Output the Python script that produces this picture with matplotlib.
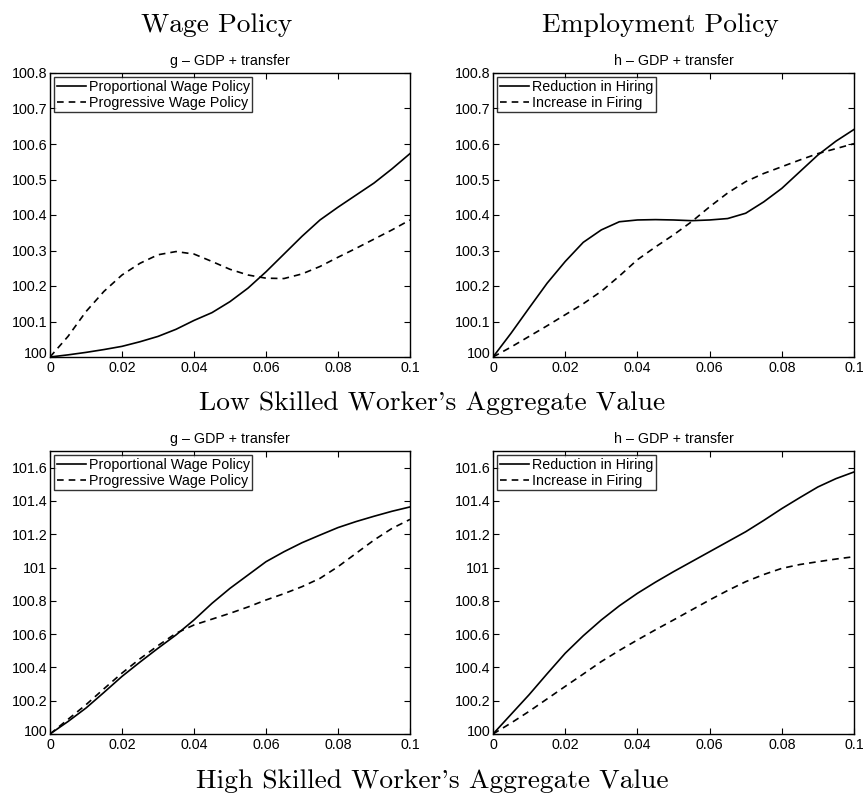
import matplotlib
matplotlib.use('Agg')
import matplotlib.pyplot as plt
from matplotlib.ticker import FuncFormatter
from matplotlib.transforms import ScaledTranslation

plt.rcParams['font.family'] = ['Liberation Sans', 'DejaVu Sans']

# low skilled, wage policy
x_tl = [0, 0.005, 0.01, 0.015, 0.02, 0.025, 0.03, 0.035, 0.04, 0.045, 0.05, 0.055, 0.06, 0.065,
        0.07, 0.075, 0.08, 0.085, 0.09, 0.095, 0.1]
prop_low = [100.0, 100.006, 100.013, 100.021, 100.03, 100.043, 100.058, 100.078, 100.103, 100.125,
            100.156, 100.194, 100.24, 100.29, 100.34, 100.386, 100.422, 100.456, 100.49, 100.53, 100.573]
prog_low = [100.0, 100.058, 100.128, 100.185, 100.231, 100.264, 100.288, 100.297, 100.29, 100.269,
            100.247, 100.231, 100.222, 100.221, 100.234, 100.255, 100.281, 100.306, 100.332,
            100.358, 100.386]

# low skilled, employment policy
x_tr = [0, 0.005, 0.01, 0.015, 0.02, 0.025, 0.03, 0.035, 0.04, 0.045, 0.05, 0.055, 0.06, 0.065,
        0.07, 0.075, 0.08, 0.085, 0.09, 0.095, 0.1]
hire_low = [100.0, 100.067, 100.138, 100.208, 100.269, 100.323, 100.358, 100.381, 100.386, 100.387,
            100.386, 100.384, 100.386, 100.39, 100.405, 100.437, 100.475, 100.522, 100.569, 100.608,
            100.641]
fire_low = [100.0, 100.028, 100.058, 100.088, 100.119, 100.15, 100.185, 100.228, 100.274, 100.31,
            100.344, 100.381, 100.423, 100.462, 100.494, 100.517, 100.536, 100.555, 100.573, 100.587,
            100.601]

# high skilled, wage policy
x_bl = [0, 0.005, 0.01, 0.015, 0.02, 0.025, 0.03, 0.035, 0.04, 0.045, 0.05, 0.055, 0.06, 0.065,
        0.07, 0.075, 0.08, 0.085, 0.09, 0.095, 0.1]
prop_high = [100.0, 100.075, 100.156, 100.25, 100.346, 100.432, 100.515, 100.595, 100.685, 100.785,
             100.875, 100.955, 101.035, 101.095, 101.149, 101.195, 101.24, 101.276, 101.308, 101.338,
             101.364]
prog_high = [100.0, 100.088, 100.176, 100.272, 100.366, 100.452, 100.531, 100.605, 100.655, 100.69,
             100.725, 100.763, 100.805, 100.843, 100.885, 100.935, 101.005, 101.085, 101.165, 101.235,
             101.289]

# high skilled, employment policy
x_br = [0, 0.005, 0.01, 0.015, 0.02, 0.025, 0.03, 0.035, 0.04, 0.045, 0.05, 0.055, 0.06, 0.065,
        0.07, 0.075, 0.08, 0.085, 0.09, 0.095, 0.1]
hire_high = [100.0, 100.118, 100.236, 100.362, 100.485, 100.59, 100.685, 100.77, 100.845, 100.912,
             100.975, 101.035, 101.095, 101.155, 101.215, 101.283, 101.354, 101.42, 101.484, 101.534,
             101.574]
fire_high = [100.0, 100.066, 100.136, 100.211, 100.286, 100.36, 100.435, 100.502, 100.565, 100.626,
             100.685, 100.745, 100.805, 100.862, 100.915, 100.958, 100.995, 101.018, 101.035, 101.051,
             101.065]

xticks = [0, 0.02, 0.04, 0.06, 0.08, 0.1]
yticks_low = [100, 100.1, 100.2, 100.3, 100.4, 100.5, 100.6, 100.7, 100.8]
yticks_high = [100, 100.2, 100.4, 100.6, 100.8, 101, 101.2, 101.4, 101.6]

W, H = 865, 798
fig = plt.figure(figsize=(W / 100, H / 100), dpi=100)


def make_ax(l, t, r, b):
    return fig.add_axes([l / W, (H - b) / H, (r - l) / W, (b - t) / H])


def style(ax, yticks, ylim, title):
    ax.set_xlim(0, 0.1)
    ax.set_ylim(*ylim)
    ax.set_xticks(xticks)
    ax.set_yticks(yticks)
    fmt = FuncFormatter(lambda v, p: '{:g}'.format(round(v, 4)))
    ax.xaxis.set_major_formatter(fmt)
    ax.yaxis.set_major_formatter(fmt)
    ax.tick_params(direction='in', top=True, right=True, length=4, width=0.8, labelsize=10.3)
    ax.tick_params(axis='x', pad=3)
    ax.tick_params(axis='y', pad=2)
    for s in ax.spines.values():
        s.set_linewidth(1.0)
    ax.set_title(title, fontsize=10.3, pad=5.5)
    # MATLAB lifts the lowest y label a little
    lab = ax.yaxis.get_major_ticks()[0].label1
    lab.set_transform(lab.get_transform() + ScaledTranslation(0, 4 / 100, fig.dpi_scale_trans))


def legend(ax, labels):
    leg = ax.legend(labels, loc='upper left', fontsize=10.3, frameon=True, fancybox=False,
                    handlelength=2.0, handletextpad=0.2, borderpad=0.2, labelspacing=0.1,
                    borderaxespad=0.3)
    leg.get_frame().set_edgecolor('black')
    leg.get_frame().set_linewidth(1.0)


lw = 1.2
dash = (0, (4, 3))

ax1 = make_ax(50, 73, 410, 357)
ax1.plot(x_tl, prop_low, color='black', lw=lw)
ax1.plot(x_tl, prog_low, color='black', lw=lw, linestyle=dash)
style(ax1, yticks_low, (100, 100.8), 'g \u2013 GDP + transfer')
legend(ax1, ['Proportional Wage Policy', 'Progressive Wage Policy'])

ax2 = make_ax(493, 73, 854, 357)
ax2.plot(x_tr, hire_low, color='black', lw=lw)
ax2.plot(x_tr, fire_low, color='black', lw=lw, linestyle=dash)
style(ax2, yticks_low, (100, 100.8), 'h \u2013 GDP + transfer')
legend(ax2, ['Reduction in Hiring', 'Increase in Firing'])

ax3 = make_ax(50, 451, 410, 734)
ax3.plot(x_bl, prop_high, color='black', lw=lw)
ax3.plot(x_bl, prog_high, color='black', lw=lw, linestyle=dash)
style(ax3, yticks_high, (100, 101.7), 'g \u2013 GDP + transfer')
legend(ax3, ['Proportional Wage Policy', 'Progressive Wage Policy'])

ax4 = make_ax(493, 451, 854, 734)
ax4.plot(x_br, hire_high, color='black', lw=lw)
ax4.plot(x_br, fire_high, color='black', lw=lw, linestyle=dash)
style(ax4, yticks_high, (100, 101.7), 'h \u2013 GDP + transfer')
legend(ax4, ['Reduction in Hiring', 'Increase in Firing'])

serif = dict(family=['cmr10', 'DejaVu Serif'], fontsize=19.8, ha='center', va='baseline')
fig.text(217 / W, 1 - 32 / H, 'Wage Policy', **serif)
fig.text(660 / W, 1 - 32 / H, 'Employment Policy', **serif)
fig.text(432 / W, 1 - 410 / H, "Low Skilled Worker's Aggregate Value", **serif)
fig.text(432 / W, 1 - 788 / H, "High Skilled Worker's Aggregate Value", **serif)

fig.savefig('out.png', dpi=100)
